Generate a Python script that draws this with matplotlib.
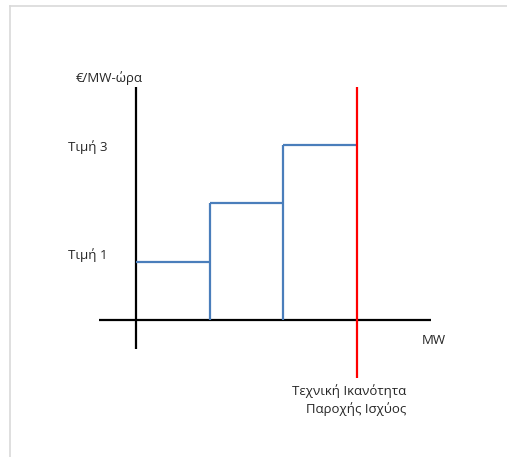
import matplotlib
matplotlib.use("Agg")
import matplotlib.pyplot as plt
from matplotlib.lines import Line2D

# Data (arbitrary units)
step_edges = [0, 1, 2, 3]          # MW block boundaries
step_prices = [1, 2, 3]            # price level for each block
capacity = 3                       # technical capacity (MW)
price_ticks = [1, 3]
price_labels = ["Τιμή 1", "Τιμή 3"]
y_label = "€/MW-ώρα"
x_label = "MW"
cap_label = "Τεχνική Ικανότητα\nΠαροχής Ισχύος"

plt.rcParams['font.family'] = ['Open Sans', 'DejaVu Sans']

W, H = 507, 457
fig = plt.figure(figsize=(W / 100, H / 100), dpi=100)
ax = fig.add_axes([0, 0, 1, 1])
ax.set_axis_off()

px_x = 73.67
px_y = 58.33
x0, y0 = 136, 320
ax.set_xlim(-x0 / px_x, (W - x0) / px_x)
ax.set_ylim(-(H - y0) / px_y, y0 / px_y)

# border
fig.add_artist(Line2D([10 / W, 1], [1 - 6 / H, 1 - 6 / H], color='#d9d9d9', lw=1.2, transform=fig.transFigure))
fig.add_artist(Line2D([10 / W, 10 / W], [0, 1 - 6 / H], color='#d9d9d9', lw=1.2, transform=fig.transFigure))

# axes
ax.plot([-0.5, 4.0], [0, 0], color='black', lw=1.6, solid_capstyle='butt')
ax.plot([0, 0], [-0.5, 4.0], color='black', lw=1.6, solid_capstyle='butt')

# step curve
blue = '#4a7ebb'
for i, p in enumerate(step_prices):
    xl, xr = step_edges[i], step_edges[i + 1]
    ax.plot([xl, xr], [p, p], color=blue, lw=1.6, solid_capstyle='butt')
    if i > 0:
        ax.plot([xl, xl], [0, p], color=blue, lw=1.6, solid_capstyle='butt')

# capacity line
ax.plot([capacity, capacity], [-1.0, 4.0], color='#ff0000', lw=1.6, solid_capstyle='butt')

txt = '#262626'
fs = 9.5
label_offsets = [0.12, -0.03]
for v, lab, off in zip(price_ticks, price_labels, label_offsets):
    ax.text(-0.655, v + off, lab, ha='center', va='center', fontsize=fs, color=txt)
ax.text(-0.36, 4.15, y_label, ha='center', va='center', fontsize=fs, color=txt)
ax.text(4.04, -0.35, x_label, ha='center', va='center', fontsize=fs, color=txt)
ax.text(3.67, -1.37, cap_label, ha='right', va='center', fontsize=fs, color=txt,
        multialignment='right', linespacing=1.35)

fig.savefig("out.png", dpi=100)
